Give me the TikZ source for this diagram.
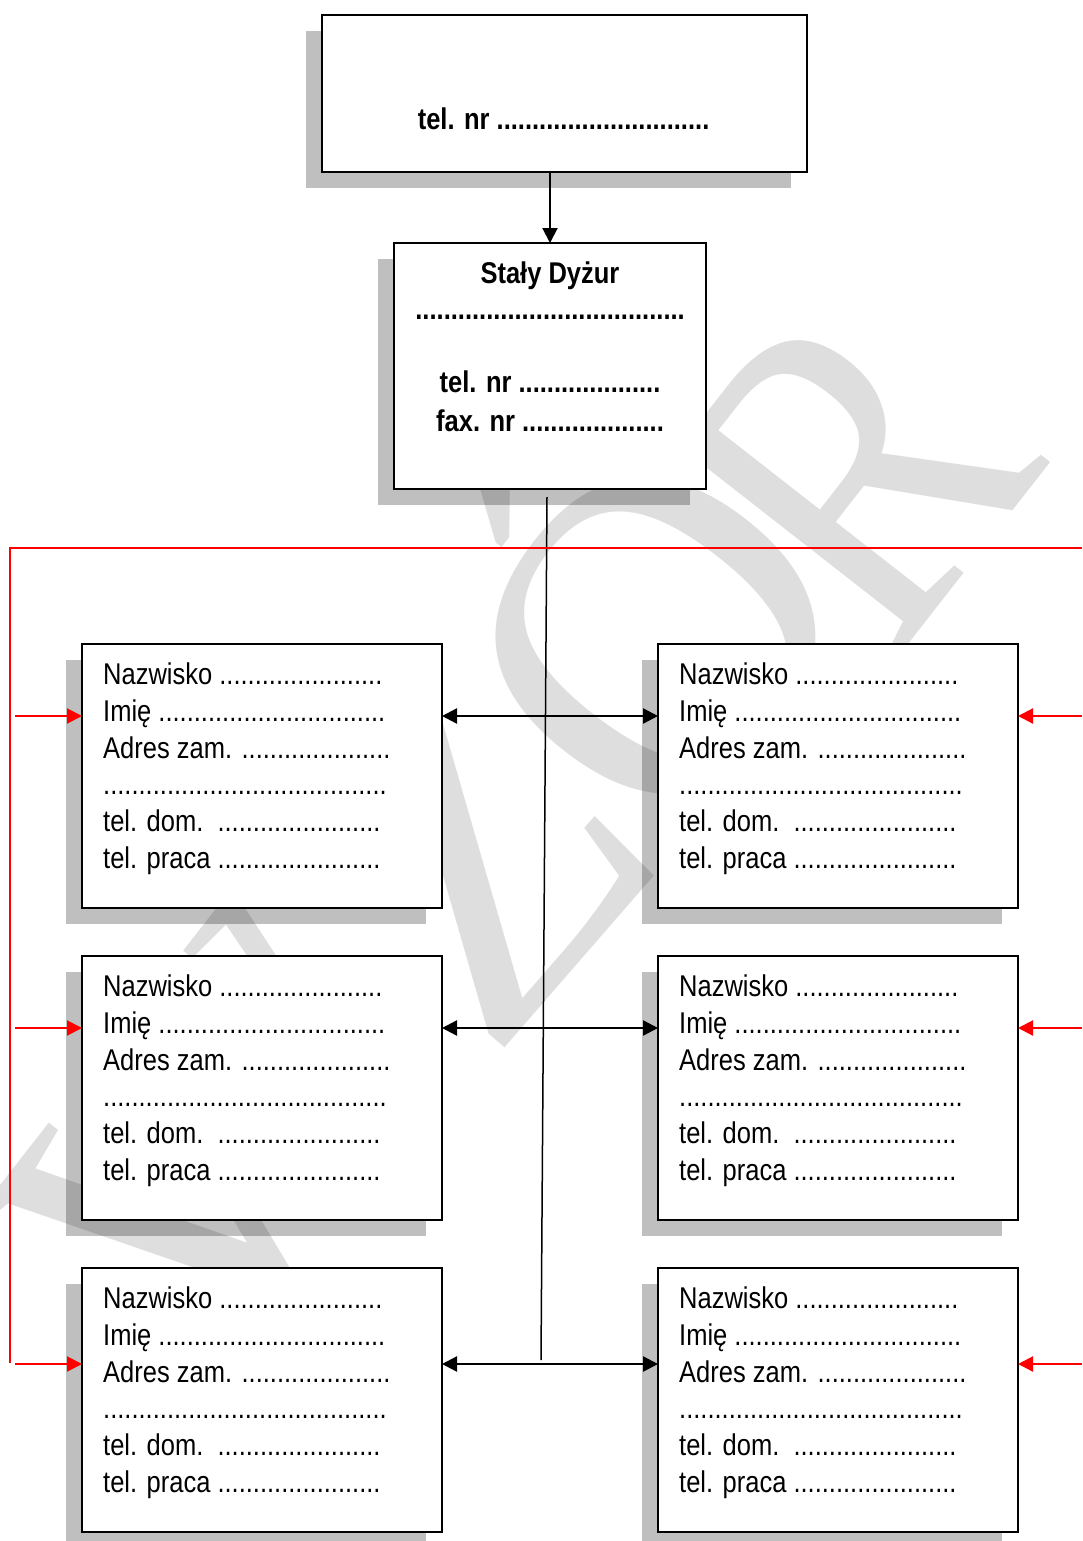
\documentclass[tikz,border=0pt]{standalone}
\usepackage{fontspec}
\setmainfont{Liberation Sans}[FakeStretch=0.85]
\newfontfamily\wmfont{Liberation Serif}
\usetikzlibrary{arrows.meta}
\pgfdeclarelayer{shadowlayer}
\pgfdeclarelayer{wmlayer}
\pgfsetlayers{shadowlayer,wmlayer,main}
\definecolor{shadowgray}{HTML}{BFBFBF}
\begin{document}
\begin{tikzpicture}[x=1pt,y=-1pt,
  box/.style={draw=black, line width=2pt, fill=white, rectangle, inner sep=0pt, outer sep=0pt, anchor=north west},
  txt/.style={anchor=base west, inner sep=0pt, font=\fontsize{30}{36}\selectfont},
  btxt/.style={anchor=base, inner sep=0pt, font=\fontsize{30}{36}\selectfont\bfseries},
  tip/.tip={Triangle[length=15pt,width=15pt]},
  conn/.style={line width=2pt, -tip},
  biconn/.style={line width=2.4pt, tip-tip},
  redarrow/.style={draw=red, line width=2.2pt, -tip},
  redline/.style={draw=red, line width=1.5pt},
  thinline/.style={draw=black, line width=1.5pt},
  wm/.style={anchor=base west, inner sep=0pt, text=black, text opacity=0.13,
    font=\wmfont\fontsize{460}{460}\selectfont, rotate=52},
  ]
\useasboundingbox (0,0) rectangle (1082,1541);

% boxes
\node[box, minimum width=485pt, minimum height=157pt] (top) at (322,15) {};
\node[box, minimum width=312pt, minimum height=246pt] (mid) at (394,243) {};
\foreach \r/\yy in {1/644, 2/956, 3/1268}{
  \node[box, minimum width=360pt, minimum height=264pt] (b\r1) at (82,\yy) {};
  \node[box, minimum width=360pt, minimum height=264pt] (b\r2) at (658,\yy) {};
}

% shadows
\begin{pgfonlayer}{shadowlayer}
\foreach \n in {top,mid,b11,b12,b21,b22,b31,b32}{
  \fill[shadowgray] ([shift={(-16,16)}]\n.north west) rectangle ([shift={(-16,16)}]\n.south east);
}
\end{pgfonlayer}

% watermark
\begin{pgfonlayer}{wmlayer}
\begin{scope}
\clip (0,0) rectangle (1082,1541);
\node[wm] (wW) at (215,1400) {W};
\node[wm, rotate=-3] (wZ) at (490,1065) {Z};
\node[wm] (wO) at (672,860) {Ó};
\node[wm, xscale=0.85] (wR) at (890,668) {R};
\end{scope}
\end{pgfonlayer}

% texts of top boxes
\node[btxt] (toptxt) at (563.5,130) {tel. nr ..............................};
\node[btxt] (midA) at (550,283) {Stały Dyżur};
\node[btxt] (midB) at (550,319) {......................................};
\node[btxt] (midC) at (550,392) {tel. nr ....................};
\node[btxt] (midD) at (550,431) {fax. nr ....................};

% texts of person boxes
\foreach \r in {1,2,3}{
  \foreach \c in {1,2}{
    \node[txt] (t\r\c a) at ([shift={(21,40)}]b\r\c.north west) {Nazwisko .......................};
    \node[txt] (t\r\c b) at ([shift={(21,77)}]b\r\c.north west) {Imię ................................};
    \node[txt] (t\r\c c) at ([shift={(21,114)}]b\r\c.north west) {Adres zam. .....................};
    \node[txt] (t\r\c d) at ([shift={(21,150)}]b\r\c.north west) {........................................};
    \node[txt] (t\r\c e) at ([shift={(21,187)}]b\r\c.north west) {tel. dom.\ \ .......................};
    \node[txt] (t\r\c f) at ([shift={(21,224)}]b\r\c.north west) {tel. praca .......................};
  }
}

% connectors
\draw[conn] (top.south -| mid.north) -- (mid.north);
\coordinate (vtop) at (547,497);
\coordinate (vbot) at (541,1360);
\draw[thinline] (vtop) -- (vbot);
\draw[biconn] ([yshift=-72pt]b11.north east) -- ([yshift=-72pt]b12.north west);
\draw[biconn] ([yshift=-72pt]b21.north east) -- ([yshift=-72pt]b22.north west);
\draw[biconn] ([yshift=-96pt]b31.north east) -- ([yshift=-96pt]b32.north west);

% red lines
\coordinate (rA) at (1082,548);
\coordinate (rB) at (10,548);
\coordinate (rC) at (10,1363);
\draw[redline] (rA) -- (rB) -- (rC);
\foreach \r/\dy in {1/72, 2/72, 3/96}{
  \coordinate (la\r) at ([yshift=-\dy pt]b\r1.north west -| 15,0);
  \coordinate (ra\r) at ([yshift=-\dy pt]b\r2.north east -| 1082,0);
  \draw[redarrow] (la\r) -- ([yshift=-\dy pt]b\r1.north west);
  \draw[redarrow] (ra\r) -- ([yshift=-\dy pt]b\r2.north east);
}
\end{tikzpicture}
\end{document}
